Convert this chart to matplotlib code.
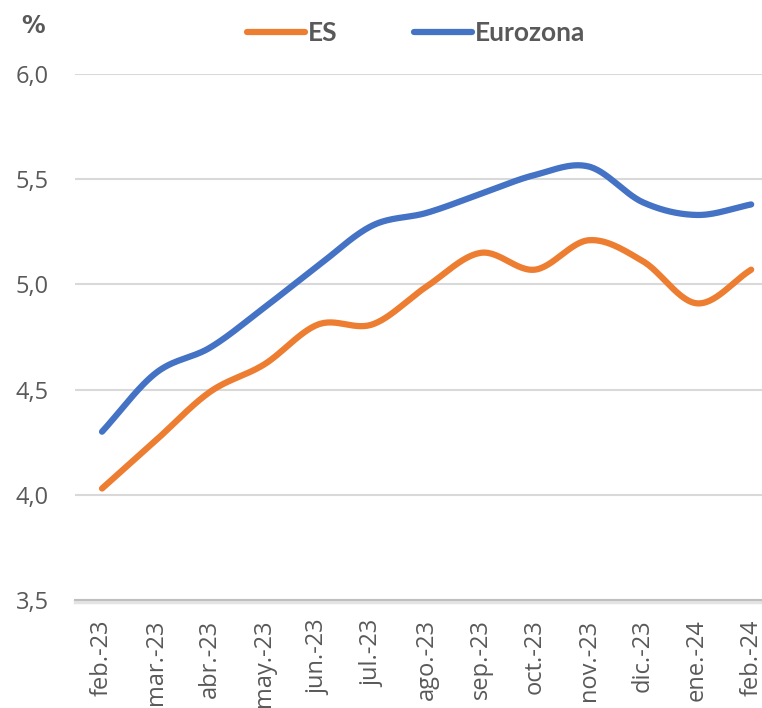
import numpy as np
import matplotlib.pyplot as plt

months = ["feb.-23", "mar.-23", "abr.-23", "may.-23", "jun.-23", "jul.-23", "ago.-23",
          "sep.-23", "oct.-23", "nov.-23", "dic.-23", "ene.-24", "feb.-24"]
es = [4.03, 4.26, 4.49, 4.62, 4.81, 4.81, 4.99, 5.15, 5.07, 5.21, 5.11, 4.91, 5.07]
eurozona = [4.30, 4.58, 4.70, 4.89, 5.09, 5.28, 5.34, 5.43, 5.52, 5.56, 5.39, 5.33, 5.38]


def smooth(y, n=30):
    # Catmull-Rom curve through the points, like Excel's smoothed line
    y = np.asarray(y, dtype=float)
    x = np.arange(len(y), dtype=float)
    xs, ys = [], []
    for i in range(len(y) - 1):
        y0 = y[i - 1] if i > 0 else y[i]
        y3 = y[i + 2] if i + 2 < len(y) else y[i + 1]
        y1, y2 = y[i], y[i + 1]
        t = np.linspace(0, 1, n, endpoint=False)
        m1 = (y2 - y0) / 2 * (1 if i > 0 else 2)
        m2 = (y3 - y1) / 2 * (1 if i + 2 < len(y) else 2)
        h00 = 2 * t**3 - 3 * t**2 + 1
        h10 = t**3 - 2 * t**2 + t
        h01 = -2 * t**3 + 3 * t**2
        h11 = t**3 - t**2
        xs.append(x[i] + t)
        ys.append(h00 * y1 + h10 * m1 + h01 * y2 + h11 * m2)
    xs.append([x[-1]])
    ys.append([y[-1]])
    return np.concatenate(xs), np.concatenate(ys)


fig = plt.figure(figsize=(7.62, 7.08), dpi=100)
ax = fig.add_axes([0.0984, 0.1525, 0.9016, 0.7430])

grey = "#595959"
x1, y1 = smooth(es)
x2, y2 = smooth(eurozona)
l1, = ax.plot(x1, y1, color="#ED7D31", lw=4.5, solid_capstyle="round", label="ES")
l2, = ax.plot(x2, y2, color="#4472C4", lw=4.5, solid_capstyle="round", label="Eurozona")

ax.set_ylim(3.5, 6.0)
ax.set_xlim(-0.5, 12.2)
ax.set_yticks(np.arange(3.5, 6.01, 0.5))
ax.set_yticklabels([f"{v:.1f}".replace(".", ",") for v in np.arange(3.5, 6.01, 0.5)])
ax.set_xticks(range(len(months)))
ax.set_xticklabels(months, rotation=90)
ax.grid(axis="y", color="#d9d9d9", lw=1.5)
ax.set_axisbelow(True)
for s in ["top", "right", "left"]:
    ax.spines[s].set_visible(False)
ax.spines["bottom"].set_color("#bfbfbf")
ax.spines["bottom"].set_linewidth(1.5)
# soft shadow under the axis line
ax.axhline(3.5 - 0.008, color="#e3e3e3", lw=2.5, clip_on=False, zorder=0)
ax.tick_params(axis="both", length=0, colors=grey, labelsize=17)
ax.tick_params(axis="y", pad=19)
ax.tick_params(axis="x", pad=14)
for t in ax.get_xticklabels() + ax.get_yticklabels():
    t.set_fontfamily("Open Sans")

fig.text(0.044, 0.963, "%", fontsize=17, fontweight="heavy", color=grey,
         ha="center", va="center", fontfamily="DejaVu Sans")
leg = fig.legend(handles=[l1, l2], loc="center", bbox_to_anchor=(0.546, 0.953), ncol=2,
                 frameon=False, handlelength=2.2, handletextpad=0.1, columnspacing=2.9,
                 prop={"family": "Lato", "weight": "bold", "size": 19})
for t in leg.get_texts():
    t.set_color(grey)

fig.savefig("out.png", dpi=100)
